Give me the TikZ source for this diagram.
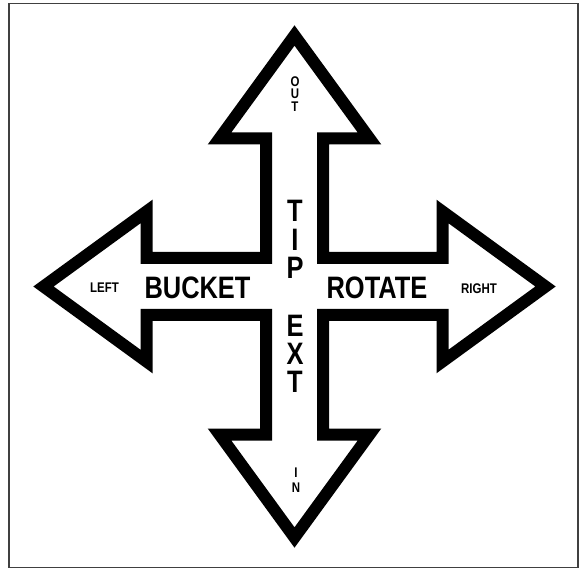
\documentclass[tikz,border=0pt]{standalone}
\usepackage{fontspec}
\newfontfamily\narrowsans[FakeStretch=0.82]{Liberation Sans}

\begin{document}
\begin{tikzpicture}[x=1pt, y=-1pt,
  bigtxt/.style={font=\narrowsans\bfseries\fontsize{31}{#1}\selectfont, inner sep=0pt, align=center},
  bigtxt/.default=28.5,
  smalltxt/.style={font=\narrowsans\bfseries\fontsize{14}{#1}\selectfont, inner sep=0pt, align=center},
  smalltxt/.default=12.5]
  \useasboundingbox (0,0) rectangle (584,569);
  \draw[line width=1.3pt, black!75] (9,3.5) rectangle (578,567.5);

  \coordinate (O) at (294.5,286.5);
  \def\sw{28.5}
  \def\hb{148}
  \def\hw{75}
  \def\tp{251}

  % contorno das quatro setas
  \begin{scope}[shift={(O)}]
    \draw[line width=12pt, miter limit=10]
      (0,-\tp) -- (\hw,-\hb) -- (\sw,-\hb) -- (\sw,-\sw) -- (\hb,-\sw) -- (\hb,-\hw)
      -- (\tp,0) -- (\hb,\hw) -- (\hb,\sw) -- (\sw,\sw) -- (\sw,\hb) -- (\hw,\hb)
      -- (0,\tp) -- (-\hw,\hb) -- (-\sw,\hb) -- (-\sw,\sw) -- (-\hb,\sw) -- (-\hb,\hw)
      -- (-\tp,0) -- (-\hb,-\hw) -- (-\hb,-\sw) -- (-\sw,-\sw) -- (-\sw,-\hb) -- (-\hw,-\hb)
      -- cycle;
  \end{scope}

  % textos horizontais
  \node[smalltxt] (left) at (104.5,288) {LEFT};
  \node[bigtxt] (bucket) at (197.5,288) {BUCKET};
  \node[bigtxt] (rotate) at (377,288) {ROTATE};
  \node[smalltxt] (right) at (479,288.5) {RIGHT};

  % textos verticais
  \node[smalltxt] (out) at (295,94) {O\\U\\T};
  \node[bigtxt] (tip) at (295,239.5) {T\\I\\P};
  \node[bigtxt=28] (ext) at (295,354) {E\\X\\T};
  \node[smalltxt=15] (in) at (296,480) {I\\N};
\end{tikzpicture}
\end{document}
